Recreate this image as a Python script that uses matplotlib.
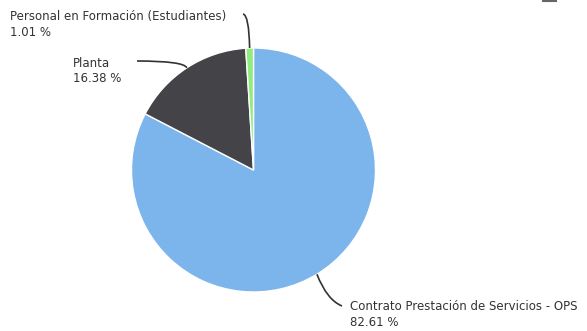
import numpy as np
import matplotlib
matplotlib.use("Agg")
import matplotlib.pyplot as plt
from matplotlib.path import Path
from matplotlib.patches import PathPatch

# data
labels = ["Contrato Prestación de Servicios - OPS", "Planta", "Personal en Formación (Estudiantes)"]
values = [82.61, 16.38, 1.01]
colors = ["#7cb5ec", "#434348", "#90ed7d"]

W, H = 587, 331
fig = plt.figure(figsize=(W / 100, H / 100), dpi=100)
ax = fig.add_axes([0, 0, 1, 1])

cx, cy, r = 253.5, H - 170, 122
wedges, _ = ax.pie(values, colors=colors, startangle=90, counterclock=False,
                   center=(cx, cy), radius=r,
                   wedgeprops=dict(edgecolor="white", linewidth=1))

ax.set_xlim(0, W)
ax.set_ylim(0, H)
ax.set_aspect("equal")
ax.axis("off")

# label text position (top-left in pixels) and connector end / control point
label_pos = [(350, 300), (73, 57), (10, 10)]
conn_end = [(342, 306), (137, 61), (243, 14)]
conn_ctrl = [(327, 300), (184, 61), (249, 15)]

for w, lab, val, (tx, ty), (ex, ey), (kx, ky) in zip(wedges, labels, values, label_pos, conn_end, conn_ctrl):
    ang = np.deg2rad((w.theta1 + w.theta2) / 2)
    ax_, ay_ = cx + r * np.cos(ang), cy + r * np.sin(ang)
    verts = [(ex, H - ey), (kx, H - ky), (ax_, ay_)]
    path = Path(verts, [Path.MOVETO, Path.CURVE3, Path.CURVE3])
    ax.add_patch(PathPatch(path, fill=False, edgecolor="#333333", lw=1.2))
    ax.text(tx, H - ty, f"{lab}\n{val:.2f} %", ha="left", va="top",
            fontsize=8.5, color="#333333", fontweight="medium", linespacing=1.25,
            family="DejaVu Sans")

# small menu mark at top right
ax.plot([543, 556], [H - 0.5, H - 0.5], color="#666666", lw=1.5)

fig.savefig("out.png", dpi=100)
